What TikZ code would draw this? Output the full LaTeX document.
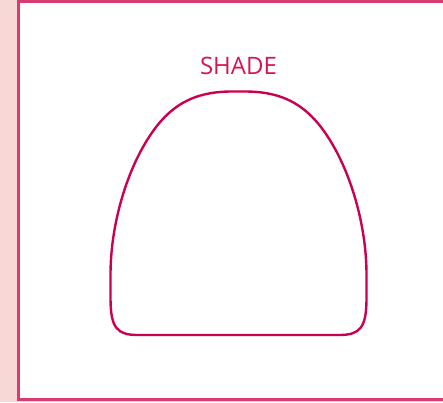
\documentclass[tikz,border=0pt]{standalone}
\usepackage{fontspec}
\setmainfont{Open Sans}
\usepackage{xcolor}
\usepackage{tikz}
\usetikzlibrary{positioning}
\definecolor{strippink}{RGB}{248,216,214}
\definecolor{framepink}{RGB}{214,60,110}
\definecolor{shadered}{RGB}{204,0,82}
\definecolor{labelred}{RGB}{214,22,80}
\tikzset{
    sidestrip/.style={fill=strippink, draw=none},
    frameline/.style={draw=framepink, line width=2.6pt},
    shapeline/.style={draw=shadered, line width=2.4pt, line join=round},
    shadelabel/.style={font=\fontsize{24}{28}\selectfont, text=labelred, inner sep=0pt}
}

\begin{document}
\begin{tikzpicture}[x=1pt, y=-1pt]

\useasboundingbox (0,0) rectangle (443,402);
\fill[sidestrip] (0,0) rectangle (17.5,402);
\fill[sidestrip] (17.5,400.6) rectangle (443,402);
\draw[frameline] (443,1.3) -- (18.7,1.3) -- (18.7,399.3) -- (443,399.3);

\node[shadelabel, anchor=base] (lbl) at (238.5,74) {SHADE};

% outline of the shade
\draw[shapeline] (238.5,335) -- (138,335)
    .. controls (117,335) and (110.5,328) .. (110.5,298) -- (110.5,275)
    .. controls (110.5,225) and (126,177) .. (143,147)
    .. controls (165,108) and (190,91.5) .. (232,91.5) -- (245,91.5)
    .. controls (287,91.5) and (312,108) .. (334,147)
    .. controls (351,177) and (366.5,225) .. (366.5,275) -- (366.5,298)
    .. controls (366.5,328) and (360,335) .. (339,335) -- cycle;

\end{tikzpicture}
\end{document}
